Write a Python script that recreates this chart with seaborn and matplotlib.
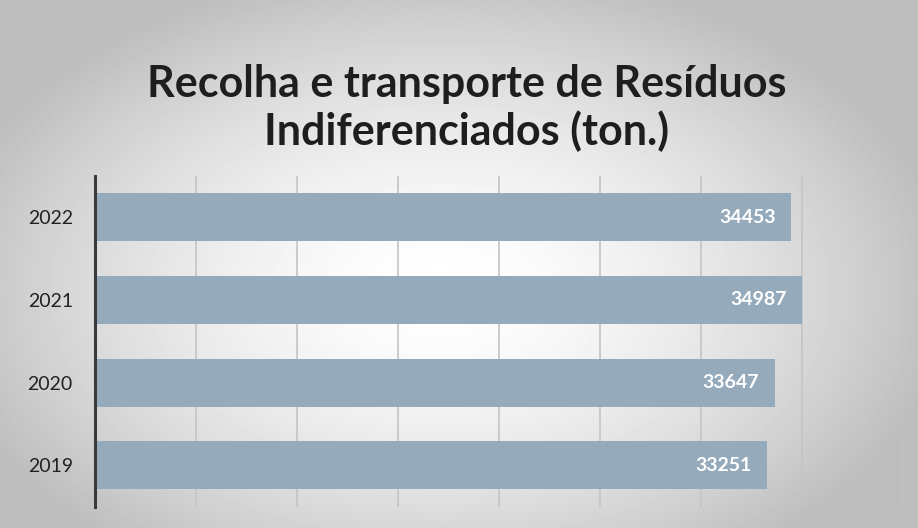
import numpy as np
import pandas as pd
import matplotlib
matplotlib.use("Agg")
import matplotlib.pyplot as plt
import seaborn as sns

# ---------- DATA ----------
years = ["2022", "2021", "2020", "2019"]
tonnes = [34453, 34987, 33647, 33251]
title = "Recolha e transporte de Resíduos\nIndiferenciados (ton.)"

df = pd.DataFrame({"ano": years, "ton": tonnes})

sns.set_style("white")
plt.rcParams["font.family"] = ["Lato", "DejaVu Sans"]

fig = plt.figure(figsize=(9.18, 5.28), dpi=100)

# scanned-paper look: gray page with a bright centre
bg = fig.add_axes([0, 0, 1, 1], zorder=-10)
yy, xx = np.mgrid[0:528, 0:918]
r = np.sqrt(((xx - 440) / 500.0) ** 2 + ((yy - 290) / 320.0) ** 2)
shade = np.clip(1.0 - 0.25 * r ** 1.6, 0.74, 1.0)
bg.imshow(shade, cmap="gray", vmin=0, vmax=1, aspect="auto", extent=[0, 1, 0, 1])
bg.axis("off")

ax = fig.add_axes([0.1035, 0.040, 0.880, 0.627])
ax.set_facecolor("none")

sns.barplot(data=df, x="ton", y="ano", orient="h", color="#95aabb",
            width=0.58, saturation=1, linewidth=0, ax=ax)

for yr, val in zip(years, tonnes):
    ax.annotate(f"{val}", xy=(val, yr), xytext=(-11, 0), textcoords="offset points",
                ha="right", va="center", color="white", fontsize=14, fontweight="bold")

ax.set_xlim(0, 40000)
ax.set_xticks(np.arange(0, 40001, 5000))
ax.set_xticklabels([])
ax.tick_params(axis="x", length=0)
ax.tick_params(axis="y", length=0, labelsize=14, pad=16, labelcolor="#222222")
ax.grid(axis="x", color="#c4c4c4", linewidth=1.2)
ax.set_axisbelow(True)
ax.set_xlabel("")
ax.set_ylabel("")
for side in ["top", "right", "bottom"]:
    ax.spines[side].set_visible(False)
ax.spines["left"].set_color("#3a3a3a")
ax.spines["left"].set_linewidth(2.2)

fig.text(0.508, 0.796, title, ha="center", va="center", fontsize=31,
         fontweight="bold", color="#1e1e1e", linespacing=1.18)

fig.savefig("out.png", dpi=100)
